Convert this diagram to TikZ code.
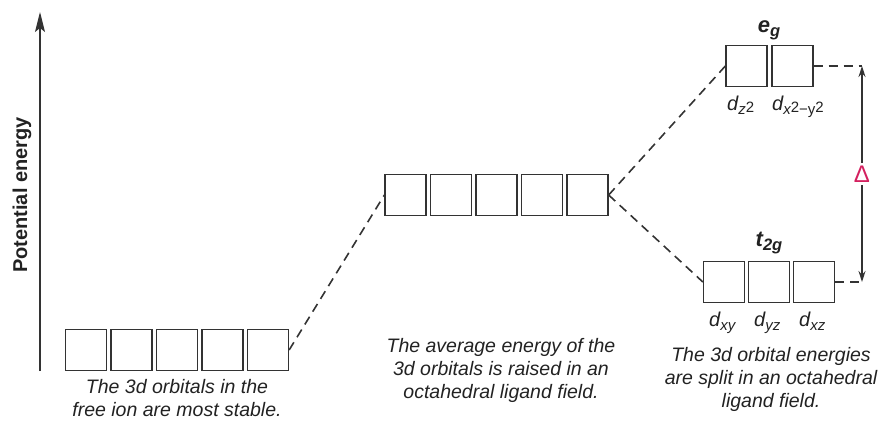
\documentclass[tikz,border=0pt]{standalone}
\usepackage{fontspec}
\setmainfont{Liberation Sans}
\usetikzlibrary{arrows.meta}
\definecolor{ink}{HTML}{333333}
\definecolor{txt}{HTML}{222222}
\definecolor{deltared}{HTML}{D4205F}
\newcommand\sbx[1]{\raisebox{-4pt}{\fontsize{15}{15}\selectfont #1}}
\newcommand\sbxb[1]{\raisebox{-4pt}{\fontsize{16.5}{16.5}\selectfont #1}}
\begin{document}
\begin{tikzpicture}[x=1pt,y=-1pt,
  orb/.style={draw=ink, line width=1.3pt, minimum width=41pt, minimum height=41pt, inner sep=0pt},
  link/.style={draw=ink, line width=1.6pt, dash pattern=on 9pt off 6pt},
  solidarrow/.style={draw=ink, line width=1.2pt, -{Stealth[length=11pt,width=7pt]}},
  captxt/.style={font=\fontsize{19.5}{23}\selectfont\itshape, align=center, inner sep=0pt, anchor=north, text=txt},
  lbl/.style={font=\fontsize{20}{23}\selectfont\itshape, inner sep=0pt, anchor=base west, text=txt},
  bilbl/.style={font=\fontsize{22}{23}\selectfont\bfseries\itshape, inner sep=0pt, anchor=base, text=txt},
]
\useasboundingbox (0,0) rectangle (883,423);

% energy axis
\coordinate (ax0) at (40,371);
\coordinate (ax1) at (40,12);
\draw[ink, line width=1.3pt, -{Stealth[length=20pt,width=10pt,inset=4pt]}] (ax0) -- (ax1);
\node[rotate=90, font=\fontsize{20}{24}\selectfont\bfseries, text=txt, inner sep=0pt] (axlabel) at (22,195) {Potential energy};

% free ion orbitals
\node[orb] (b1) at (86,350) {};
\node[orb] (b2) at (131.5,350) {};
\node[orb] (b3) at (177,350) {};
\node[orb] (b4) at (222.5,350) {};
\node[orb] (b5) at (268,350) {};

% raised average orbitals
\node[orb] (m1) at (405.5,195) {};
\node[orb] (m2) at (451,195) {};
\node[orb] (m3) at (496.5,195) {};
\node[orb] (m4) at (542,195) {};
\node[orb] (m5) at (587.5,195) {};

% eg orbitals
\node[orb] (e1) at (746.5,66) {};
\node[orb] (e2) at (792.5,66) {};

% t2g orbitals
\node[orb] (t1) at (724,282) {};
\node[orb] (t2) at (769,282) {};
\node[orb] (t3) at (814,282) {};

% connectors
\draw[link] (b5.east) -- (m1.west);
\draw[link] (m5.east) -- (e1.west);
\draw[link] (m5.east) -- (t1.west);
\coordinate (egR) at (862,66);
\coordinate (tgR) at (862,282);
\draw[link] (e2.east) -- (egR);
\draw[link] (t3.east) -- (tgR);
\node[text=deltared, font=\fontsize{24}{24}\selectfont, inner sep=3pt] (delta) at (862,174) {Δ};
\draw[solidarrow] (delta) -- (egR);
\draw[solidarrow] (delta) -- (tgR);

% orbital labels
\node[bilbl] (eglbl) at (769,32) {e\sbxb{g}};
\node[bilbl] (tglbl) at (769,246) {t\sbxb{2g}};
\node[lbl] (dz2) at (727,110) {d\sbx{z\raisebox{2pt}{\upshape 2}}};
\node[lbl] (dx2y2) at (772,110) {d\sbx{x\raisebox{2pt}{\upshape 2}\upshape −y\raisebox{2pt}{\upshape 2}}};
\node[lbl] (dxy) at (709,326) {d\sbx{xy}};
\node[lbl] (dyz) at (754,326) {d\sbx{yz}};
\node[lbl] (dxz) at (799,326) {d\sbx{xz}};

% captions
\node[captxt] (capfree) at (177,379) {The 3d orbitals in the\\free ion are most stable.};
\node[captxt] (capavg) at (501,338) {The average energy of the\\3d orbitals is raised in an\\octahedral ligand field.};
\node[captxt] (capsplit) at (771,347) {The 3d orbital energies\\are split in an octahedral\\ligand field.};
\end{tikzpicture}
\end{document}
